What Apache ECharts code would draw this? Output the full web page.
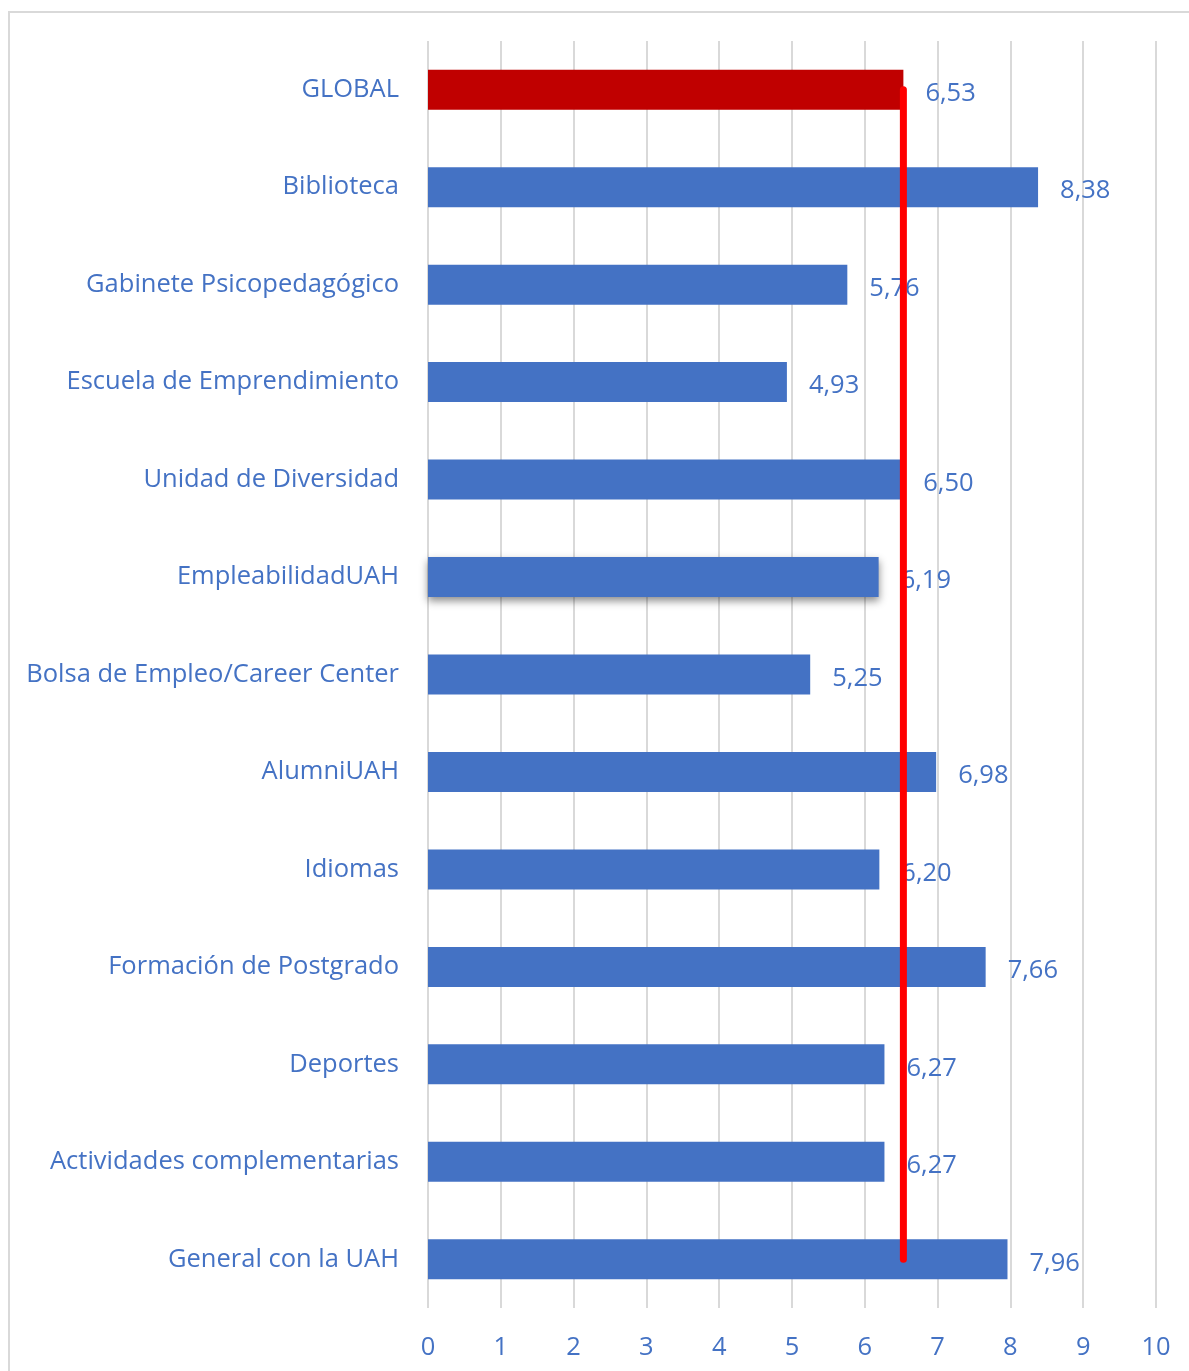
<!DOCTYPE html>
<html>
<head>
<meta charset="utf-8">
<script src="https://cdn.jsdelivr.net/npm/echarts@6/dist/echarts.min.js"></script>
<style>
  html, body { margin: 0; padding: 0; background: #fff; }
  #chart { width: 1189px; height: 1371px; }
</style>
</head>
<body>
<div id="chart"></div>
<script>
// categorias, de arriba a abajo
const categories = [
  'GLOBAL',
  'Biblioteca',
  'Gabinete Psicopedagógico',
  'Escuela de Emprendimiento',
  'Unidad de Diversidad',
  'EmpleabilidadUAH',
  'Bolsa de Empleo/Career Center',
  'AlumniUAH',
  'Idiomas',
  'Formación de Postgrado',
  'Deportes',
  'Actividades complementarias',
  'General con la UAH'
]
const values = [6.53, 8.38, 5.76, 4.93, 6.50, 6.19, 5.25, 6.98, 6.20, 7.66, 6.27, 6.27, 7.96]
const xTicks = [0, 1, 2, 3, 4, 5, 6, 7, 8, 9, 10]
const globalValue = values[0]

const blue = '#4472C4'
const textBlue = '#4472C4'
const font = '"Open Sans", "Noto Sans", sans-serif'
const fs = 25.5

const barData = values.map((v, i) => {
  const item = { value: v }
  if (i === 0) item.itemStyle = { color: '#C00000' }
  if (categories[i] === 'EmpleabilidadUAH') {
    item.itemStyle = { color: blue, shadowBlur: 8, shadowOffsetY: 4, shadowColor: 'rgba(0,0,0,0.45)' }
  }
  return item
})

const chart = echarts.init(document.getElementById('chart'))
const option = {
  animation: false,
  backgroundColor: '#fff',
  graphic: [
    {
      type: 'rect',
      shape: { x: 9, y: 12, width: 1200, height: 1400 },
      style: { fill: 'none', stroke: '#D9D9D9', lineWidth: 2 },
      silent: true
    }
  ],
  grid: { left: 428, right: 33, top: 41, bottom: 63 },
  xAxis: {
    type: 'value',
    min: xTicks[0],
    max: xTicks[xTicks.length - 1],
    interval: 1,
    axisLine: { show: false },
    axisTick: { show: false },
    axisLabel: {
      color: textBlue,
      fontFamily: font,
      fontSize: fs,
      margin: 27,
      formatter: (v) => String(v)
    },
    splitLine: { show: true, lineStyle: { color: '#D9D9D9', width: 2 } }
  },
  yAxis: {
    type: 'category',
    data: categories,
    inverse: true,
    axisLine: { show: false },
    axisTick: { show: false },
    axisLabel: {
      color: textBlue,
      fontFamily: font,
      fontSize: fs,
      margin: 29
    }
  },
  series: [
    {
      type: 'bar',
      data: barData,
      barWidth: 40,
      itemStyle: { color: blue },
      label: {
        show: true,
        position: 'right',
        distance: 22,
        offset: [0, 4],
        color: textBlue,
        fontFamily: font,
        fontSize: fs,
        formatter: (p) => p.value.toFixed(2).replace('.', ',')
      },
      z: 2
    },
    {
      type: 'line',
      data: [
        [globalValue, categories[0]],
        [globalValue, categories[categories.length - 1]]
      ],
      symbol: 'none',
      lineStyle: { color: '#FF0000', width: 7, cap: 'round' },
      z: 3
    }
  ]
}
chart.setOption(option)
</script>
</body>
</html>
